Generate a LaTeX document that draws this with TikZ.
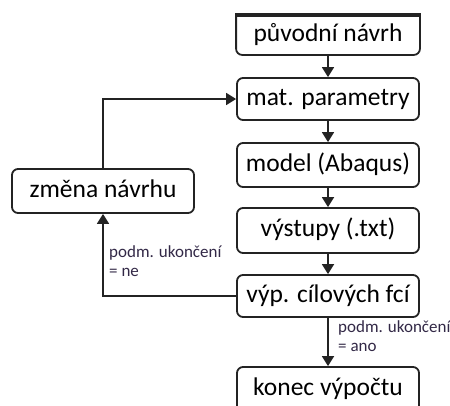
\documentclass[tikz,border=0pt]{standalone}
\usepackage{fontspec}
\setmainfont{Carlito}
\usetikzlibrary{arrows.meta}
\definecolor{linec}{RGB}{35,35,35}
\definecolor{labc}{RGB}{50,40,70}
\tikzset{
  box/.style={draw=linec, line width=1.8pt, rounded corners=6pt, minimum width=182pt,
    minimum height=42pt, inner sep=0pt, font=\fontsize{25.5}{28}\selectfont,
    text height=17pt, text depth=5pt},
  conn/.style={draw=linec, line width=1.8pt},
  arr/.style={conn, -{Triangle[length=10pt,width=12pt]}},
  lab/.style={font=\fontsize{17}{19}\selectfont, text=labc, align=left, anchor=north west, inner sep=0pt}
}
\begin{document}
\begin{tikzpicture}[x=1pt,y=-1pt]
\useasboundingbox (0,0) rectangle (450,405);
\clip (0,0) rectangle (450,405);
% top box (cut at top)
\node[box, draw=none, minimum height=38pt] (b1) at (328,35) {původní návrh};
\draw[linec, line width=1.8pt, rounded corners=6pt] (b1.north west) -- (b1.south west) -- (b1.south east) -- (b1.north east);
\draw[linec, line width=4pt] ([xshift=-1pt]b1.north west) -- ([xshift=1pt]b1.north east);
\node[box] (b2) at (328,99) {mat. parametry};
\node[box, minimum height=44pt] (b3) at (328,165) {model (Abaqus)};
\node[box, minimum height=45pt] (b4) at (328,230.5) {výstupy (.txt)};
\node[box] (b5) at (328,296) {výp. cílových fcí};
\node[box, minimum height=60pt, text height=23pt, text depth=27pt] (b6) at (328,397) {konec výpočtu};
\node[box, minimum height=44pt] (z) at (103,191) {změna návrhu};
\draw[arr] (b1) -- (b2);
\draw[arr] (b2) -- (b3);
\draw[arr] (b3) -- (b4);
\draw[arr] (b4) -- (b5);
\draw[arr] (b5) -- (b6);
\draw[arr] (b5.west) -| (z.south);
\draw[arr] (z.north) |- (b2.west);
\node[lab] (l1) at (109,245) {podm. ukončení\\= ne};
\node[lab] (l2) at (338,320) {podm. ukončení\\= ano};
\end{tikzpicture}
\end{document}
